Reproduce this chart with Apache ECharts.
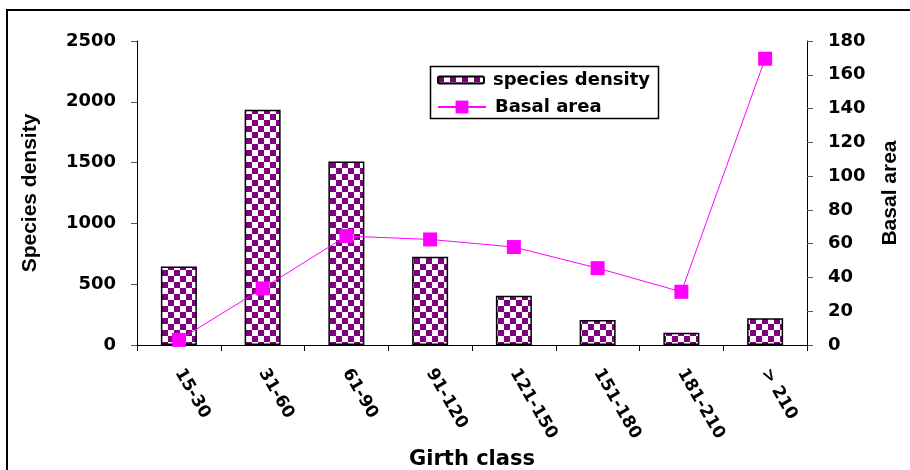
<!DOCTYPE html>
<html>
<head>
<meta charset="utf-8">
<script src="https://cdn.jsdelivr.net/npm/echarts@6/dist/echarts.min.js"></script>
<style>html,body{margin:0;padding:0;background:#fff;}#c{width:910px;height:470px;}</style>
</head>
<body>
<div id="c"></div>
<script>
var categories = ['15-30','31-60','61-90','91-120','121-150','151-180','181-210','> 210'];
var speciesDensity = [645, 1935, 1510, 725, 405, 205, 100, 220];
var basalArea = [3, 33.5, 64.5, 62.5, 58, 45.5, 31.5, 169.5];
var leftTicks = {min: 0, max: 2500, interval: 500};
var rightTicks = {min: 0, max: 180, interval: 20};

function makePattern() {
  var cv = document.createElement('canvas');
  cv.width = 12; cv.height = 12;
  var ctx = cv.getContext('2d');
  ctx.fillStyle = '#ffffff';
  ctx.fillRect(0, 0, 12, 12);
  ctx.fillStyle = '#800080';
  ctx.fillRect(0, 0, 6, 6);
  ctx.fillRect(6, 6, 6, 6);
  return cv;
}
var pat = makePattern();
var F = 'DejaVu Sans';
var legendText = {fontFamily: F, fontWeight: 'bold', fontSize: 18, color: '#000', padding: [0, 0, 0, 4]};
var chart = echarts.init(document.getElementById('c'));
chart.setOption({
  backgroundColor: '#ffffff',
  animation: false,
  grid: {left: 137, right: 103, top: 41, bottom: 125, containLabel: false, outerBoundsMode: 'none'},
  graphic: [{
    type: 'rect', silent: true, z: 100,
    shape: {x: 7, y: 10, width: 940, height: 500},
    style: {fill: 'none', stroke: '#000', lineWidth: 2}
  }, {
    type: 'rect', silent: true, z: 100,
    shape: {x: 430.5, y: 66.5, width: 228, height: 52},
    style: {fill: 'none', stroke: '#000', lineWidth: 1.5}
  }],
  legend: [{
    orient: 'horizontal', left: 437, top: 71,
    padding: 0,
    itemWidth: 46, itemHeight: 7,
    textStyle: legendText,
    data: ['species density']
  }, {
    orient: 'horizontal', left: 437, top: 98,
    padding: 0,
    itemWidth: 48, itemHeight: 16,
    textStyle: legendText,
    data: ['Basal area']
  }],
  xAxis: {
    type: 'category', data: categories,
    name: 'Girth class', nameLocation: 'middle', nameGap: 102,
    nameTextStyle: {fontFamily: F, fontWeight: 'bold', fontSize: 21, color: '#000'},
    axisLine: {lineStyle: {color: '#000', width: 1}},
    axisTick: {show: true, alignWithLabel: false, length: 6, lineStyle: {color: '#000'}},
    axisLabel: {rotate: -60, margin: 25, fontFamily: F, fontWeight: 'bold', fontSize: 17, color: '#000', interval: 0}
  },
  yAxis: [{
    type: 'value', min: leftTicks.min, max: leftTicks.max, interval: leftTicks.interval,
    name: 'Species density', nameLocation: 'middle', nameGap: 96, nameRotate: 90,
    nameTextStyle: {fontFamily: 'Liberation Sans Narrow, Liberation Sans', fontWeight: 'bold', fontSize: 21, color: '#000'},
    axisLine: {show: true, lineStyle: {color: '#000'}},
    axisTick: {show: true, length: 6, lineStyle: {color: '#555'}},
    splitLine: {show: false},
    axisLabel: {margin: 21, fontFamily: F, fontWeight: 'bold', fontSize: 18, color: '#000', formatter: function (v) { return String(v); }}
  }, {
    type: 'value', min: rightTicks.min, max: rightTicks.max, interval: rightTicks.interval,
    name: 'Basal area', nameLocation: 'middle', nameGap: 73, nameRotate: 90,
    nameTextStyle: {fontFamily: 'Liberation Sans Narrow, Liberation Sans', fontWeight: 'bold', fontSize: 21, color: '#000'},
    axisLine: {show: true, lineStyle: {color: '#000'}},
    axisTick: {show: true, length: 6, lineStyle: {color: '#555'}},
    splitLine: {show: false},
    axisLabel: {margin: 21, fontFamily: F, fontWeight: 'bold', fontSize: 18, color: '#000', formatter: function (v) { return String(v); }}
  }],
  series: [{
    name: 'species density', type: 'bar', data: speciesDensity, barWidth: 36,
    itemStyle: {color: {image: pat, repeat: 'repeat'}, borderColor: '#000', borderWidth: 1.5}
  }, {
    name: 'Basal area', type: 'line', yAxisIndex: 1, data: basalArea,
    symbol: 'rect', symbolSize: 14,
    lineStyle: {color: '#ff00ff', width: 1},
    itemStyle: {color: '#ff00ff'}
  }]
});
</script>
</body>
</html>
